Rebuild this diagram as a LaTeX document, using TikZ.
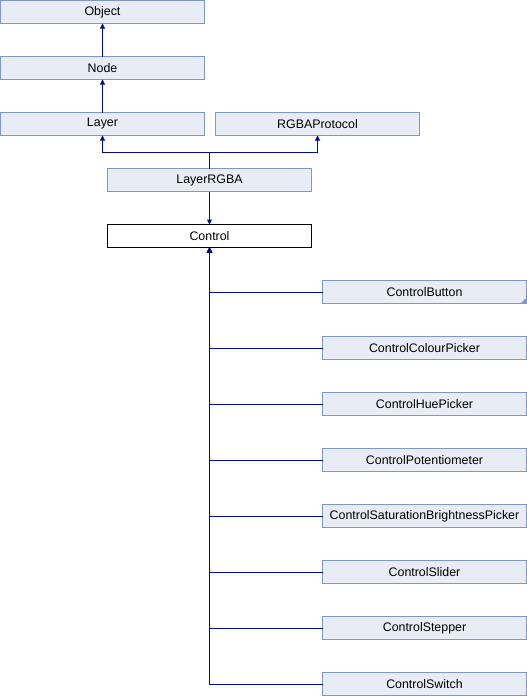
\documentclass[tikz,border=0pt]{standalone}
\usepackage{fontspec}
\setmainfont{Liberation Sans}
\usetikzlibrary{arrows.meta}
\definecolor{boxfill}{HTML}{E8ECF5}
\definecolor{boxdraw}{HTML}{7E96CF}
\definecolor{edge}{HTML}{000C8F}
\tikzset{
  cls/.style={draw=boxdraw, fill=boxfill, line width=1pt, minimum width=204pt, minimum height=23pt,
    inner sep=0pt, outer sep=0pt, font=\fontsize{12.4}{14}\selectfont, text=black},
  cur/.style={cls, draw=black, fill=white},
  inh/.style={draw=edge, line width=1pt, -{Triangle[length=5pt,width=5pt]}},
}
\begin{document}
\begin{tikzpicture}[x=1pt,y=1pt]
\useasboundingbox (0,0) rectangle (527,-696);
\node[cls] (object) at (102.5,-12) {Object};
\node[cls] (node) at (102.5,-68) {Node};
\node[cls] (layer) at (102.5,-124) {Layer};
\node[cls] (rgbap) at (317.5,-124) {RGBAProtocol};
\node[cls] (layerrgba) at (209.5,-180) {LayerRGBA};
\node[cur] (control) at (209.5,-236) {Control};
\node[cls] (c1) at (424.5,-292) {ControlButton};
\node[cls] (c2) at (424.5,-348) {ControlColourPicker};
\node[cls] (c3) at (424.5,-404) {ControlHuePicker};
\node[cls] (c4) at (424.5,-460) {ControlPotentiometer};
\node[cls] (c5) at (424.5,-516) {ControlSaturationBrightnessPicker};
\node[cls] (c6) at (424.5,-572) {ControlSlider};
\node[cls] (c7) at (424.5,-628) {ControlStepper};
\node[cls] (c8) at (424.5,-684) {ControlSwitch};
\fill[boxdraw] (c1.south east) -- ++(-6,0) -- ++(6,6) -- cycle;
\draw[inh] (node.north) -- (object.south);
\draw[inh] (layer.north) -- (node.south);
\coordinate (j) at ([yshift=16pt]layerrgba.north);
\draw[draw=edge, line width=1pt] (layerrgba.north) -- (j);
\draw[inh] (j) -| (layer.south);
\draw[inh] (j) -| (rgbap.south);
\draw[inh] (layerrgba.south) -- (control.north);
\foreach \c in {c1,c2,c3,c4,c5,c6,c7,c8}{
  \draw[inh] (\c.west) -| (control.south);
}
\end{tikzpicture}
\end{document}
